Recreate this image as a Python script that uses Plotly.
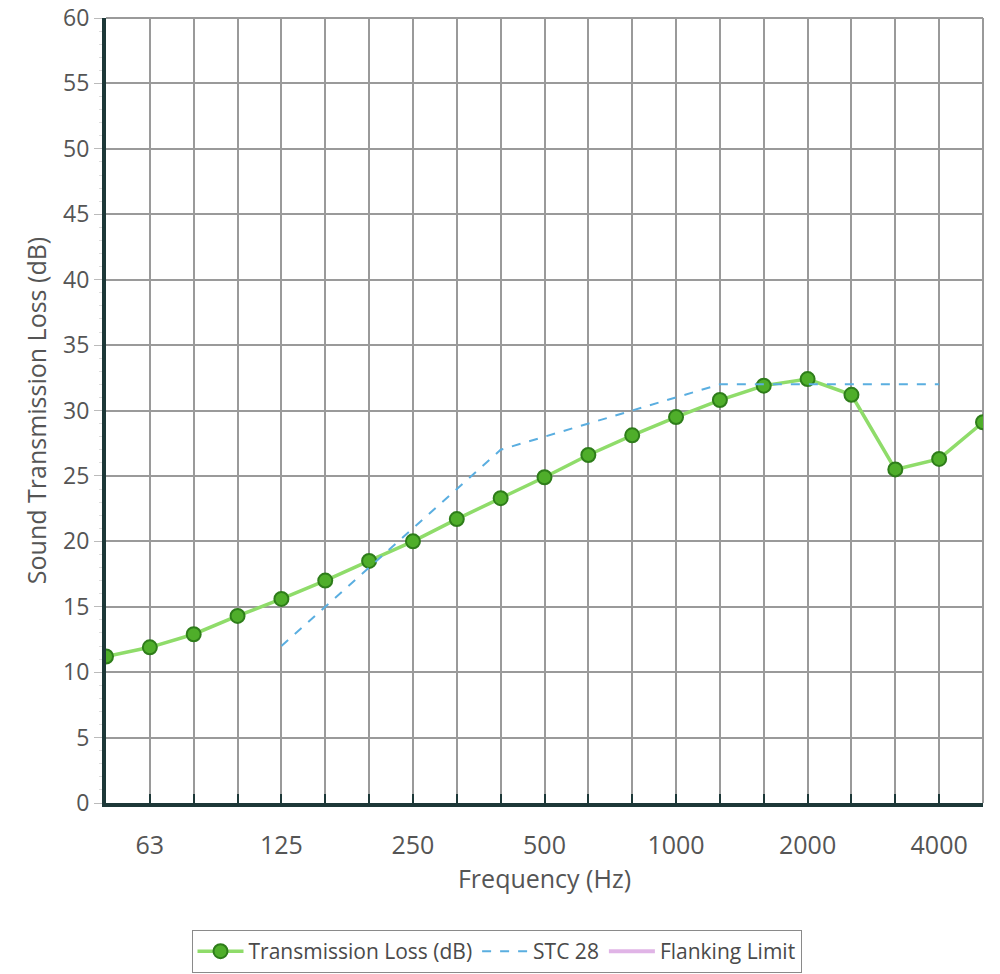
import plotly.graph_objects as go

bands = ["50", "63", "80", "100", "125", "160", "200", "250", "315", "400", "500",
         "630", "800", "1000", "1250", "1600", "2000", "2500", "3150", "4000", "5000"]
tl_values = [11.2, 11.9, 12.9, 14.3, 15.6, 17.0, 18.5, 20.0, 21.7, 23.3, 24.9,
             26.6, 28.1, 29.5, 30.8, 31.9, 32.4, 31.2, 25.5, 26.3, 29.1]
stc_bands = ["125", "160", "200", "250", "315", "400", "500", "630", "800", "1000",
             "1250", "1600", "2000", "2500", "3150", "4000"]
stc_values = [12, 15, 18, 21, 24, 27, 28, 29, 30, 31, 32, 32, 32, 32, 32, 32]
labeled = ["63", "125", "250", "500", "1000", "2000", "4000"]
tick_text = [b if b in labeled else "" for b in bands]

fig = go.Figure()
fig.add_trace(go.Scatter(
    x=bands, y=tl_values, mode="lines+markers", name="Transmission Loss (dB)",
    line=dict(color="#8fdc6a", width=3.5),
    marker=dict(size=14, color="#4fae2a", line=dict(color="#2e7d1a", width=2)),
))
fig.add_trace(go.Scatter(
    x=stc_bands, y=stc_values, mode="lines", name="STC 28",
    line=dict(color="#5aaee0", width=2, dash="dash"),
))
fig.add_trace(go.Scatter(
    x=[None], y=[None], mode="lines", name="Flanking Limit",
    line=dict(color="#e0b4e6", width=4),
))

font_family = "Open Sans, Noto Sans, sans-serif"
fig.update_layout(
    width=1000, height=974,
    margin=dict(l=106, r=17, t=18, b=171),
    paper_bgcolor="white", plot_bgcolor="white",
    font=dict(family=font_family, color="#555555", size=20),
    showlegend=True,
    legend=dict(
        orientation="h", xref="container", yref="container",
        x=0.4965, xanchor="center", y=1 - 930 / 974, yanchor="top",
        bordercolor="#8a8a8a", borderwidth=1, font=dict(size=21, color="#4a4a4a"),
        itemwidth=46, tracegroupgap=0,
    ),
)
fig.update_xaxes(
    type="category", categoryorder="array", categoryarray=bands,
    range=[0, len(bands) - 1], automargin=False,
    tickmode="array", tickvals=bands, ticktext=tick_text,
    showgrid=True, gridcolor="#9a9a9a", gridwidth=2,
    showline=True, linecolor="#1d3838", linewidth=4,
    ticks="inside", ticklen=9, tickcolor="#1d3838", tickwidth=2,
    ticklabelstandoff=17, ticklabeloverflow="allow",
    tickfont=dict(size=25, color="#555555"),
    title=dict(text="Frequency (Hz)", font=dict(size=25, color="#555555"), standoff=0),
    zeroline=False, mirror=False,
)
fig.update_yaxes(
    range=[0, 60], tickvals=list(range(0, 61, 5)), automargin=False,
    showgrid=True, gridcolor="#9a9a9a", gridwidth=2,
    showline=True, linecolor="#1d3838", linewidth=4,
    ticks="outside", ticklen=8, tickcolor="#bbbbbb", tickwidth=1,
    ticklabelstandoff=0, ticklabeloverflow="allow",
    minor=dict(dtick=1, ticks="outside", ticklen=3, tickcolor="#dddddd", showgrid=False),
    tickfont=dict(size=23, color="#555555"),
    title=dict(text="Sound Transmission Loss (dB)", font=dict(size=25, color="#555555"), standoff=10),
    zeroline=False,
)
# right and top border lines (grid-coloured frame)
fig.add_shape(type="line", xref="paper", yref="paper", x0=1, x1=1, y0=0, y1=1,
              line=dict(color="#9a9a9a", width=2), layer="below")
fig.add_shape(type="line", xref="paper", yref="paper", x0=0, x1=1, y0=1, y1=1,
              line=dict(color="#9a9a9a", width=2), layer="below")

fig.write_html("out.html", config={"displayModeBar": False},
               post_script="document.body.style.margin='0';")
